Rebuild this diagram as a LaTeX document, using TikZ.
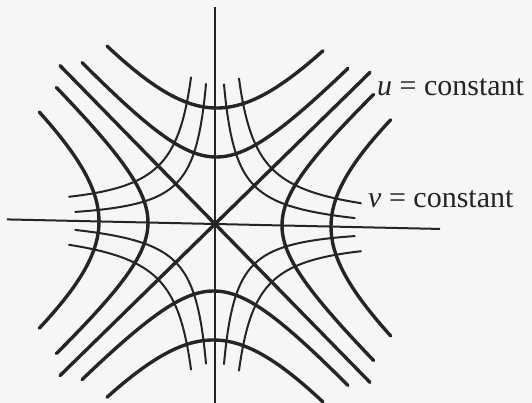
\documentclass[tikz,border=0pt]{standalone}
\usepackage{fontspec}
\setmainfont{Liberation Serif}
\definecolor{ink}{HTML}{252525}
\definecolor{paper}{HTML}{F6F6F4}
\begin{document}
\begin{tikzpicture}[x=1pt,y=1pt,
  thickcurve/.style={draw=ink, line width=3.4pt, line cap=round},
  thincurve/.style={draw=ink, line width=2pt, line cap=round},
  axisline/.style={draw=ink, line width=2pt},
  lbl/.style={text=ink, inner sep=0pt, font=\fontsize{30}{36}\selectfont}]
\fill[paper] (-215,-179) rectangle (317,224);
\useasboundingbox (-215,-179) rectangle (317,224);
\begin{scope}[yslant=-0.022]
% axes
\coordinate (xl) at (-208,0);
\coordinate (xr) at (225,0);
\coordinate (yt) at (0,217);
\coordinate (yb) at (0,-182);
\draw[axisline] (xl) -- (xr);
\draw[axisline] (yt) -- (yb);
% asymptotes u = 0
\coordinate (a1) at (-155,155);
\coordinate (a2) at (155,-155);
\coordinate (a3) at (-155,-155);
\coordinate (a4) at (155,155);
\draw[thickcurve] (a1) -- (a2);
\draw[thickcurve] (a3) -- (a4);
% u = constant hyperbolas
\foreach \s in {1,-1} {
  \draw[thickcurve] plot[domain=-133:133, samples=61, smooth] ({\s*67*sqrt(1+(\x/62)*(\x/62))}, {\x});
  \draw[thickcurve] plot[domain=-133:133, samples=61, smooth] ({\x}, {\s*67*sqrt(1+(\x/62)*(\x/62))});
  \draw[thickcurve] plot[domain=-108:108, samples=51, smooth] ({\s*116*sqrt(1+(\x/95)*(\x/95))}, {\x});
  \draw[thickcurve] plot[domain=-108:108, samples=51, smooth] ({\x}, {\s*116*sqrt(1+(\x/95)*(\x/95))});
}
% v = constant curves
\foreach \sx in {1,-1} {
  \foreach \sy in {1,-1} {
    \draw[thincurve] plot[domain=-1.202:1.202, samples=61, smooth, variable=\t]
      ({\sx*(43.24*exp(\t)-4)}, {\sy*(43.24*exp(-\t)-4)});
    \draw[thincurve] plot[domain=-1.0024:1.0024, samples=61, smooth, variable=\t]
      ({\sx*(5+51.77*exp(\t))}, {\sy*(5+51.77*exp(-\t))});
  }
}
\end{scope}
% labels
\node[lbl, anchor=base west] (ulab) at (162,128) {\textit{u} = constant};
\node[lbl, anchor=base west] (vlab) at (153,16.5) {\textit{v} = constant};
\end{tikzpicture}
\end{document}
